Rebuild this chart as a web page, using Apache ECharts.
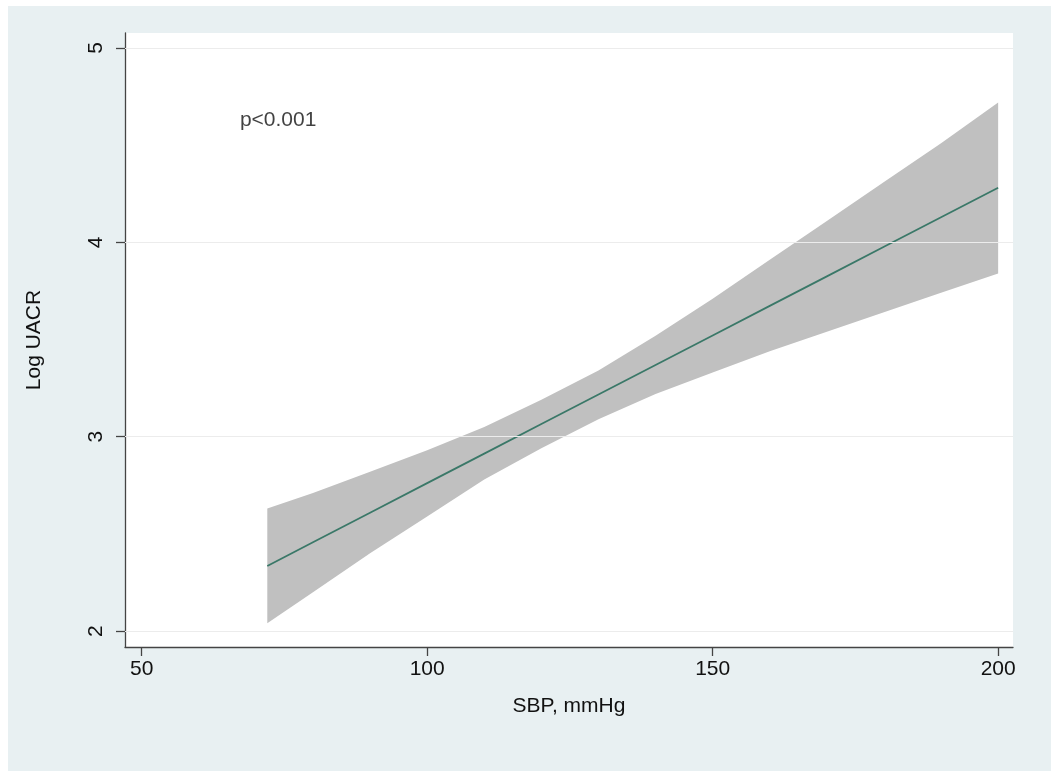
<!DOCTYPE html>
<html>
<head>
<meta charset="utf-8">
<script src="https://cdn.jsdelivr.net/npm/echarts@6/dist/echarts.min.js"></script>
<style>
html,body{margin:0;padding:0;background:#ffffff;}
#bg{position:absolute;left:8px;top:6px;width:1043px;height:765px;background:#e8f0f2;}
#chart{position:absolute;left:0;top:0;width:1051px;height:771px;}
</style>
</head>
<body>
<div id="bg"></div>
<div id="chart"></div>
<script>
// SBP values where the fit and CI are evaluated
const sbp = [72, 80, 90, 100, 110, 120, 130, 140, 150, 160, 170, 180, 190, 200];
// fitted Log UACR
const fitted = [2.335, 2.457, 2.609, 2.761, 2.913, 3.065, 3.217, 3.369, 3.521, 3.673, 3.825, 3.977, 4.129, 4.281];
// 95% CI bounds
const upperCI = [2.63, 2.71, 2.82, 2.93, 3.05, 3.19, 3.34, 3.52, 3.71, 3.91, 4.11, 4.31, 4.51, 4.72];
const lowerCI = [2.04, 2.20, 2.40, 2.59, 2.78, 2.94, 3.09, 3.22, 3.33, 3.44, 3.54, 3.64, 3.74, 3.84];
const xTicks = [50, 100, 150, 200];
const yTicks = [2, 3, 4, 5];
const annotation = 'p<0.001';
const xTitle = 'SBP, mmHg';
const yTitle = 'Log UACR';

const chart = echarts.init(document.getElementById('chart'), null, {renderer: 'canvas'});
const font = 'Liberation Sans, Arial, sans-serif';
const textColor = '#111111';
const axisColor = '#444444';
const fs = 21;

const bandPoly = sbp.map((x, i) => [x, upperCI[i]]).concat(sbp.slice().reverse().map((x, i) => [x, lowerCI[sbp.length - 1 - i]]));

chart.setOption({
  backgroundColor: 'transparent',
  animation: false,
  grid: {left: 125, top: 33, right: 38, bottom: 124, show: true, backgroundColor: '#ffffff', borderWidth: 0},
  xAxis: {
    type: 'value', min: 47.08, max: 202.6,
    name: xTitle, nameLocation: 'middle', nameGap: 49,
    nameTextStyle: {fontFamily: font, fontSize: fs, color: textColor},
    axisLine: {show: true, onZero: false, lineStyle: {color: axisColor, width: 1.3}},
    axisTick: {show: true, length: 9, customValues: xTicks, lineStyle: {color: axisColor, width: 1.3}},
    axisLabel: {customValues: xTicks, fontFamily: font, fontSize: fs, color: textColor, margin: 12},
    splitLine: {show: false}
  },
  yAxis: {
    type: 'value', min: 1.918, max: 5.077,
    name: yTitle, nameLocation: 'middle', nameGap: 80, nameRotate: 90,
    nameTextStyle: {fontFamily: font, fontSize: fs, color: textColor},
    axisLine: {show: true, onZero: false, lineStyle: {color: axisColor, width: 1.3}},
    axisTick: {show: true, length: 9, customValues: yTicks, lineStyle: {color: axisColor, width: 1.3}},
    axisLabel: {customValues: yTicks, rotate: 90, fontFamily: font, fontSize: fs, color: textColor, margin: 18},
    splitLine: {show: false}
  },
  series: [
    {
      type: 'line', data: [], silent: true,
      markLine: {
        silent: true, symbol: 'none', label: {show: false},
        lineStyle: {color: '#ececec', width: 1.2, type: 'solid'},
        data: yTicks.map(v => ({yAxis: v}))
      }
    },
    {
      type: 'custom', silent: true, z: 2,
      data: [0],
      renderItem: function (params, api) {
        const pts = bandPoly.map(p => api.coord(p));
        return {type: 'polygon', shape: {points: pts}, style: {fill: '#c0c0c0', stroke: null}};
      }
    },
    {
      type: 'line', z: 3, silent: true,
      data: sbp.map((x, i) => [x, fitted[i]]),
      showSymbol: false, symbol: 'none',
      lineStyle: {color: '#3a7868', width: 1.8}
    },
    {
      type: 'scatter', z: 4, silent: true, symbolSize: 0,
      data: [[67.2, 4.63]],
      label: {show: true, formatter: annotation, position: 'right', distance: 0, fontFamily: font, fontSize: fs, color: textColor}
    }
  ]
});
</script>
</body>
</html>
